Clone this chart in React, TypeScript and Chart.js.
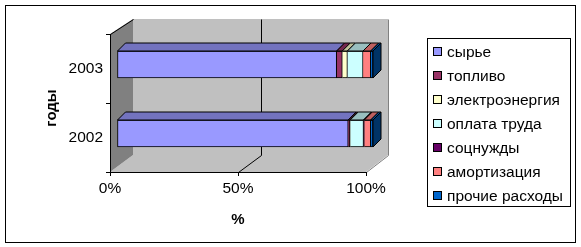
import React, { useEffect, useRef } from 'react';
import { Chart, registerables } from 'chart.js';

Chart.register(...registerables);

// ---- data ----
const CATEGORIES = ['2003', '2002'];
const SERIES_NAMES = ['сырье', 'топливо', 'электроэнергия', 'оплата труда', 'соцнужды', 'амортизация', 'прочие расходы'];
const SYRYE = [85.8, 90.3];
const TOPLIVO = [2.2, 0.6];
const ELEKTRO = [2.0, 0.2];
const OPLATA = [6.1, 5.2];
const SOTSNUZHDY = [0.0, 0.3];
const AMORTIZATSIYA = [3.0, 2.5];
const PROCHIE = [0.9, 0.9];
const X_TICK_STEP = 50;
const X_TITLE = '%';
const Y_TITLE = 'годы';

const SERIES_VALUES = [SYRYE, TOPLIVO, ELEKTRO, OPLATA, SOTSNUZHDY, AMORTIZATSIYA, PROCHIE];
const COLORS = ['#9999FF', '#993366', '#FFFFCC', '#CCFFFF', '#660066', '#FF8080', '#0066CC'];

const FONT = "'Liberation Sans', Arial, sans-serif";

// ---- 3D geometry (styles) ----
const FRONT_DX = 7;
const FRONT_DY = -4;
const BAR_DX = 8;
const BAR_DY = -8;
const WALL_DX_L = 23;
const WALL_DX_R = 22;
const WALL_DY_T = -15;
const WALL_DY_B = -17;

function shade(hex: string, f: number) {
  const n = parseInt(hex.slice(1), 16);
  const r = Math.round(((n >> 16) & 255) * f);
  const g = Math.round(((n >> 8) & 255) * f);
  const b = Math.round((n & 255) * f);
  return `rgb(${r},${g},${b})`;
}

const px = (v: number) => Math.round(v) + 0.5;

const excel3d = {
  id: 'excel3d',
  beforeDraw(chart: any) {
    const { ctx, chartArea: a } = chart;
    ctx.save();
    ctx.fillStyle = '#ffffff';
    ctx.fillRect(0, 0, chart.width, chart.height);
    ctx.strokeStyle = '#000';
    ctx.lineWidth = 1;
    ctx.strokeRect(5.5, 5.5, 570, 237);

    const bl = a.left + WALL_DX_L;
    const br = a.right + WALL_DX_R;
    const bt = a.top + WALL_DY_T;
    const bb = a.bottom + WALL_DY_B;

    // back wall
    ctx.fillStyle = '#C0C0C0';
    ctx.fillRect(bl, bt, br - bl, bb - bt);
    // floor
    ctx.beginPath();
    ctx.moveTo(a.left, a.bottom);
    ctx.lineTo(a.right, a.bottom);
    ctx.lineTo(br, bb);
    ctx.lineTo(bl, bb);
    ctx.closePath();
    ctx.fillStyle = '#C0C0C0';
    ctx.fill();
    // left wall
    ctx.beginPath();
    ctx.moveTo(a.left, a.top);
    ctx.lineTo(bl, bt);
    ctx.lineTo(bl, bb);
    ctx.lineTo(a.left, a.bottom);
    ctx.closePath();
    ctx.fillStyle = '#808080';
    ctx.fill();

    // edges
    ctx.strokeStyle = '#000';
    ctx.beginPath();
    ctx.moveTo(px(a.left), px(a.top));
    ctx.lineTo(px(bl), px(bt));
    ctx.stroke();
    ctx.strokeStyle = '#808080';
    ctx.beginPath();
    ctx.moveTo(px(br), px(bt));
    ctx.lineTo(px(br), px(bb));
    ctx.lineTo(px(a.right), px(a.bottom));
    ctx.stroke();

    // gridlines on back wall + floor
    const xs = chart.scales.x;
    ctx.strokeStyle = '#000';
    xs.ticks.forEach((t: any) => {
      if (t.value === xs.min || t.value === xs.max) return;
      const fx = xs.getPixelForValue(t.value);
      const frac = (fx - a.left) / (a.right - a.left);
      const bx = bl + frac * (br - bl);
      ctx.beginPath();
      ctx.moveTo(px(bx), px(bt));
      ctx.lineTo(px(bx), px(bb));
      ctx.lineTo(px(fx), px(a.bottom));
      ctx.stroke();
    });
    ctx.restore();
  },
  beforeDatasetsDraw(chart: any) {
    chart.ctx.save();
    chart.ctx.translate(FRONT_DX, FRONT_DY);
  },
  afterDatasetsDraw(chart: any) {
    const ctx = chart.ctx;
    ctx.restore();
    ctx.save();
    ctx.lineWidth = 1;
    ctx.strokeStyle = '#000';
    ctx.lineJoin = 'miter';
    const nCat = chart.data.labels.length;
    for (let j = 0; j < nCat; j++) {
      let last: any = null;
      chart.data.datasets.forEach((ds: any, i: number) => {
        const meta = chart.getDatasetMeta(i);
        const el = meta.data[j];
        if (!el) return;
        const { x, y, base, height } = el.getProps(['x', 'y', 'base', 'height'], true);
        const l = Math.min(x, base) + FRONT_DX;
        const r = Math.max(x, base) + FRONT_DX;
        const t = y - height / 2 + FRONT_DY;
        const b = y + height / 2 + FRONT_DY;
        if (r - l < 0.05) return;
        ctx.beginPath();
        ctx.moveTo(l, t);
        ctx.lineTo(r, t);
        ctx.lineTo(r + BAR_DX, t + BAR_DY);
        ctx.lineTo(l + BAR_DX, t + BAR_DY);
        ctx.closePath();
        ctx.fillStyle = shade(ds.backgroundColor, 0.75);
        ctx.fill();
        ctx.stroke();
        last = { r, t, b, color: ds.backgroundColor };
      });
      if (last) {
        ctx.beginPath();
        ctx.moveTo(last.r, last.t);
        ctx.lineTo(last.r + BAR_DX, last.t + BAR_DY);
        ctx.lineTo(last.r + BAR_DX, last.b + BAR_DY);
        ctx.lineTo(last.r, last.b);
        ctx.closePath();
        ctx.fillStyle = shade(last.color, 0.5);
        ctx.fill();
        ctx.stroke();
      }
    }
    ctx.restore();
  },
  afterDraw(chart: any) {
    const ctx = chart.ctx;
    const a = chart.chartArea;
    ctx.save();
    // y axis title
    ctx.fillStyle = '#000';
    ctx.font = `bold 15px ${FONT}`;
    ctx.textAlign = 'center';
    ctx.textBaseline = 'middle';
    ctx.translate(52, (a.top + a.bottom) / 2 + 5);
    ctx.rotate(-Math.PI / 2);
    ctx.fillText(Y_TITLE, 0, 0);
    ctx.restore();

    // legend box
    ctx.save();
    ctx.fillStyle = '#fff';
    ctx.fillRect(427.5, 38.5, 143, 168);
    ctx.strokeStyle = '#000';
    ctx.lineWidth = 1;
    ctx.strokeRect(427.5, 38.5, 143, 168);
    ctx.font = `15.5px ${FONT}`;
    ctx.textAlign = 'left';
    ctx.textBaseline = 'middle';
    chart.data.datasets.forEach((ds: any, i: number) => {
      const cy = 52 + i * 24;
      ctx.fillStyle = ds.backgroundColor;
      ctx.fillRect(433.5, cy - 4.5, 8, 8);
      ctx.strokeRect(433.5, cy - 4.5, 8, 8);
      ctx.fillStyle = '#000';
      ctx.fillText(ds.label, 447, cy + 0.5);
    });
    ctx.restore();
  },
};

export default function App() {
  const ref = useRef<HTMLCanvasElement>(null);

  useEffect(() => {
    if (!ref.current) return;
    const datasets = SERIES_NAMES.map((name, i) => ({
      label: name,
      data: SERIES_VALUES[i],
      backgroundColor: COLORS[i],
      borderColor: '#000',
      borderWidth: 1,
      borderSkipped: i === 0 ? false : 'start',
      barThickness: 27,
      clip: false,
    }));
    const chart = new Chart(ref.current, {
      type: 'bar',
      data: { labels: CATEGORIES, datasets: datasets as any },
      options: {
        indexAxis: 'y',
        responsive: false,
        animation: false,
        devicePixelRatio: 1,
        layout: { padding: { left: 8, top: 34, right: 215, bottom: 15 } },
        plugins: {
          legend: { display: false },
          tooltip: { enabled: false },
        },
        scales: {
          x: {
            stacked: true,
            min: 0,
            max: 100,
            afterFit: (s: any) => { s.height = 60; },
            ticks: {
              stepSize: X_TICK_STEP,
              color: '#000',
              padding: 3,
              font: { family: FONT, size: 15.5 },
              callback: (v: any) => `${v}%`,
              maxRotation: 0,
            },
            grid: { drawOnChartArea: false, drawTicks: true, tickLength: 4, color: '#000' },
            border: { display: true, color: '#000', width: 1 },
            title: {
              display: true,
              text: X_TITLE,
              color: '#000',
              font: { family: FONT, size: 15, weight: 'bold' },
              padding: { top: 0, bottom: 3 },
            },
          },
          y: {
            stacked: true,
            afterFit: (s: any) => { s.width = 102; },
            ticks: {
              color: '#000',
              padding: 3,
              font: { family: FONT, size: 15.5 },
            },
            grid: { drawOnChartArea: false, drawTicks: true, tickLength: 4, color: '#000', offset: true },
            border: { display: true, color: '#000', width: 1 },
          },
        },
      },
      plugins: [excel3d],
    });
    return () => chart.destroy();
  }, []);

  return (
    <div style={{ position: 'fixed', left: 0, top: 0, width: 581, height: 247, background: '#fff' }}>
      <canvas ref={ref} width={581} height={247} style={{ display: 'block' }} />
    </div>
  );
}
